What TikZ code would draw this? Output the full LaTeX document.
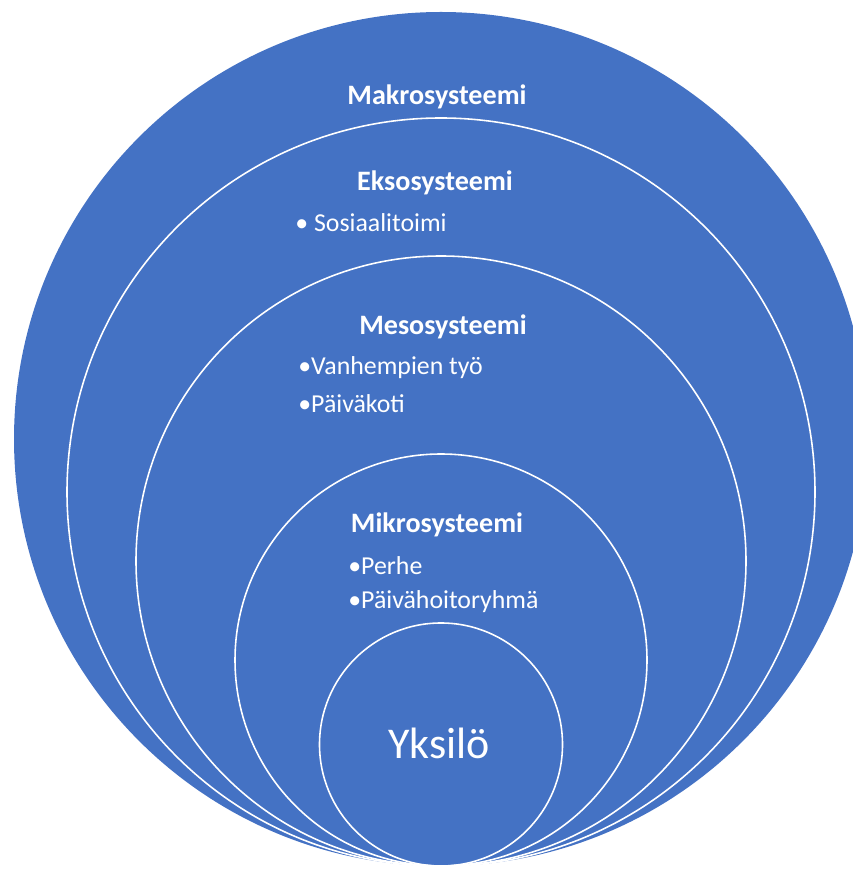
\documentclass[tikz,border=0pt]{standalone}
\usepackage{fontspec}
\setmainfont{Carlito}
\usepackage{xcolor}
\definecolor{ringblue}{HTML}{4472C4}

\begin{document}
\begin{tikzpicture}
            \def\X{8.82}
            \def\B{0.14}
            \def\makrocircle{(\X,\B+8.54) circle (8.54)}
            \def\eksocircle{(\X,\B+7.48) circle (7.48)}
            \def\mesocircle{(\X,\B+6.10) circle (6.10)}
            \def\mikrocircle{(\X,\B+4.12) circle (4.12)}
            \def\yksicircle{(\X,\B+2.43) circle (2.43)}

            \useasboundingbox (0,0) rectangle (17.06,17.46);
            \clip (0,0) rectangle (17.06,17.46);

            \fill[ringblue] \makrocircle;

            \begin{scope}[draw=white, line width=0.9pt]
                \draw \eksocircle;
                \draw \mesocircle;
                \draw \mikrocircle;
                \draw \yksicircle;
            \end{scope}

            \tikzset{head/.style={text=white, font=\fontsize{16}{19}\selectfont\bfseries},
                     item/.style={text=white, anchor=west, inner sep=0pt, font=\fontsize{14.7}{17}\selectfont}}

            \node[head] (makro) at (8.74, 15.52) {Makrosysteemi};
            \node[head] (ekso) at (8.70, 13.80) {Eksosysteemi};
            \node[item] (sosiaali) at (5.90, 13.00) {• Sosiaalitoimi};

            \node[head] (meso) at (8.86, 10.92) {Mesosysteemi};
            \node[item] (tyo) at (5.96, 10.10) {•Vanhempien työ};
            \node[item] (paivakoti) at (5.96, 9.38) {•Päiväkoti};

            \node[head] (mikro) at (8.74, 6.96) {Mikrosysteemi};
            \node[item] (perhe) at (6.96, 6.14) {•Perhe};
            \node[item] (ryhma) at (6.96, 5.42) {•Päivähoitoryhmä};

            \node[text=white, font=\fontsize{25}{30}\selectfont] (yksilo) at (8.78, 2.60) {Yksilö};
        \end{tikzpicture}
\end{document}
